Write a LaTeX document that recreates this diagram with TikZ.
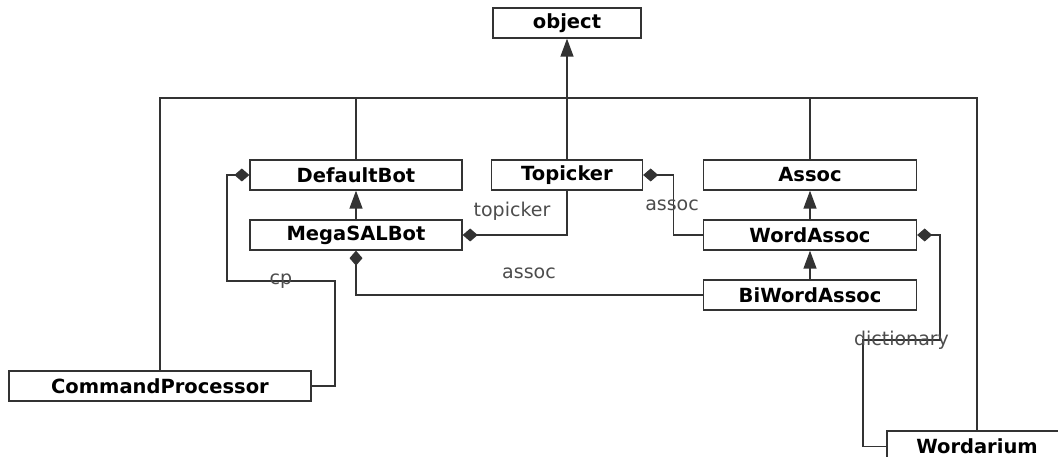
\documentclass[tikz,border=0pt]{standalone}
\usepackage{fontspec}
\setmainfont{DejaVu Sans}
\usetikzlibrary{arrows.meta,positioning}

\tikzset{
    cls/.style={draw=black!80, line width=1.3pt, minimum height=30pt, inner sep=0pt,
        font=\fontsize{19.5}{19.5}\selectfont\bfseries},
    rel/.style={draw=black!80, line width=1.3pt},
    inherit/.style={rel, -{Triangle[length=18pt,width=13pt]}},
    compose/.style={rel, {Diamond[length=15pt,width=13pt]}-},
    role/.style={font=\fontsize{19}{19}\selectfont, text=black!70, inner sep=0pt},
}

\begin{document}
\begin{tikzpicture}[x=1pt, y=-1pt]
        \useasboundingbox (0,0) rectangle (1058,457);

        % Classes
        \node[cls, minimum width=148pt] (object) at (567,23) {object};
        \node[cls, minimum width=212pt] (DefaultBot) at (356,175) {DefaultBot};
        \node[cls, minimum width=212pt] (MegaSALBot) at (356,235) {MegaSALBot};
        \node[cls, minimum width=151pt] (Topicker) at (567,175) {Topicker};
        \node[cls, minimum width=213pt] (Assoc) at (810,175) {Assoc};
        \node[cls, minimum width=213pt] (WordAssoc) at (810,235) {WordAssoc};
        \node[cls, minimum width=213pt] (BiWordAssoc) at (810,295) {BiWordAssoc};
        \node[cls, minimum width=302pt] (CommandProcessor) at (160,386) {CommandProcessor};
        \node[cls, minimum width=180pt, minimum height=31pt] (Wordarium) at (977,446.5) {Wordarium};

        % Inheritance from object
        \coordinate (bus) at (567,98);
        \draw[inherit] (Topicker.north) -- (object.south);
        \draw[rel] (CommandProcessor.north) |- (Wordarium.north |- bus) -- (Wordarium.north);
        \draw[rel] (DefaultBot.north) -- (DefaultBot.north |- bus);
        \draw[rel] (Assoc.north) -- (Assoc.north |- bus);

        % Inheritance between classes
        \draw[inherit] (MegaSALBot.north) -- (DefaultBot.south);
        \draw[inherit] (WordAssoc.north) -- (Assoc.south);
        \draw[inherit] (BiWordAssoc.north) -- (WordAssoc.south);

        % Compositions
        \coordinate (cpA) at (227,281);
        \coordinate (cpB) at (335,281);
        \draw[compose] (DefaultBot.west) -| (cpA) -- node[role] {cp} (cpB) |- (CommandProcessor.east);

        \draw[compose] (MegaSALBot.east) -| (Topicker.south);
        \node[role] (lblTopicker) at (512,211) {topicker};

        \draw[compose] (Topicker.east) -- ++(30,0) |- (WordAssoc.west);
        \node[role] (lblAssocA) at (672,205) {assoc};

        \draw[compose] (MegaSALBot.south) |- (BiWordAssoc.west);
        \node[role] (lblAssocB) at (529,273) {assoc};

        \coordinate (dictA) at (940,340);
        \coordinate (dictB) at (863,340);
        \draw[compose] (WordAssoc.east) -| (dictA) -- node[role] {dictionary} (dictB) |- (Wordarium.west);
    \end{tikzpicture}
\end{document}
